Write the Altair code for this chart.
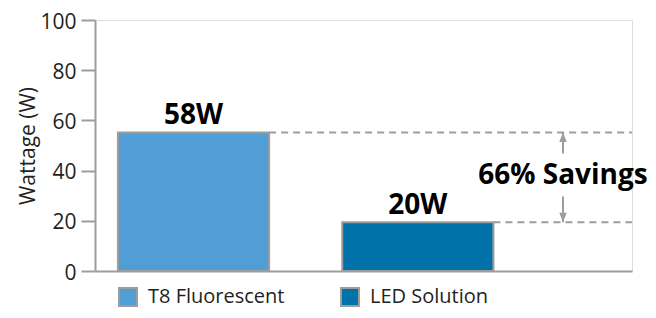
import altair as alt
import pandas as pd

categories = ["T8 Fluorescent", "LED Solution"]
bar_values = [55.2, 19.4]          # bar heights as drawn
bar_labels = ["58W", "20W"]
bar_colors = ["#519dd6", "#0071a9"]
savings_text = "66% Savings"
y_ticks = [0, 20, 40, 60, 80, 100]

FONT = "Open Sans"
GRAY = "#9d9d9d"
TXT = "#231f20"
W, H = 537, 251

df = pd.DataFrame({"cat": categories, "value": bar_values, "label": bar_labels})
ann = pd.DataFrame({"top": [bar_values[0]], "bottom": [bar_values[1]],
                    "mid": [(bar_values[0] + bar_values[1]) / 2], "text": [savings_text]})

xscale = alt.Scale(domain=categories, paddingInner=0.326, paddingOuter=0.36, align=0.142)
yscale = alt.Scale(domain=[0, 100])

x_enc = alt.X("cat:N", sort=categories, scale=xscale,
              axis=alt.Axis(title=None, labels=False, ticks=False, domain=True,
                            domainColor=GRAY, domainWidth=2, grid=False))
y_enc = alt.Y("value:Q", scale=yscale,
              axis=alt.Axis(title="Wattage (W)", values=y_ticks, grid=False,
                            domainColor=GRAY, domainWidth=2, tickColor=GRAY, tickWidth=2,
                            tickSize=14, labelFontSize=21, labelFont=FONT, labelColor=TXT,
                            labelPadding=5, labelOffset=2, titleFont=FONT, titleFontSize=21,
                            titleFontWeight="normal", titleColor=TXT, titlePadding=1))

bars = alt.Chart(df).mark_bar(stroke=GRAY, strokeWidth=2).encode(
    x=x_enc, y=y_enc,
    color=alt.Color("cat:N", sort=categories,
                    scale=alt.Scale(domain=categories, range=bar_colors),
                    legend=alt.Legend(title=None, orient="none", legendX=23, legendY=267,
                                      direction="horizontal", columns=2, symbolType="square",
                                      symbolSize=324, symbolStrokeColor=GRAY, symbolStrokeWidth=2,
                                      symbolOpacity=1, labelFont=FONT, labelFontSize=20,
                                      labelColor=TXT, labelOffset=10, columnPadding=52,
                                      padding=0)),
)

labels = alt.Chart(df).mark_text(font=FONT, fontSize=28, fontWeight="bold", baseline="alphabetic",
                                 dy=-8, color="#000").encode(
    x=alt.X("cat:N", sort=categories, scale=xscale),
    y=alt.Y("value:Q", scale=yscale), text="label:N")

dashes = alt.Chart(df).mark_rule(color=GRAY, strokeWidth=2, strokeDash=[7, 5]).encode(
    x=alt.X("cat:N", sort=categories, scale=xscale, bandPosition=1),
    x2=alt.value(W),
    y=alt.Y("value:Q", scale=yscale))

AX = 468
up_shaft = alt.Chart(ann).mark_rule(color=GRAY, strokeWidth=2, y2Offset=-24).encode(
    x=alt.value(AX), y=alt.Y("top:Q", scale=yscale), y2="mid:Q")
down_shaft = alt.Chart(ann).mark_rule(color=GRAY, strokeWidth=2, yOffset=19).encode(
    x=alt.value(AX), y=alt.Y("mid:Q", scale=yscale), y2="bottom:Q")
up_head = alt.Chart(ann).mark_point(shape="M0,-1L0.75,0.9L-0.75,0.9Z", filled=True, size=100,
                                    color=GRAY, opacity=1, yOffset=5).encode(
    x=alt.value(AX), y=alt.Y("top:Q", scale=yscale))
down_head = alt.Chart(ann).mark_point(shape="M0,1L0.75,-0.9L-0.75,-0.9Z", filled=True, size=100,
                                      color=GRAY, opacity=1, yOffset=-5).encode(
    x=alt.value(AX), y=alt.Y("bottom:Q", scale=yscale))
sav = alt.Chart(ann).mark_text(font=FONT, fontSize=28, fontWeight="bold", color="#000",
                               baseline="alphabetic", dy=7).encode(
    x=alt.value(AX), y=alt.Y("mid:Q", scale=yscale), text="text:N")

chart = alt.layer(bars, dashes, labels, up_shaft, down_shaft, up_head, down_head, sav).properties(
    width=W, height=H, autosize=alt.AutoSizeParams(type="none"),
    padding={"left": 87, "top": 12, "right": 16, "bottom": 39}
).configure_view(stroke=None).configure(background="white")

chart.save("out.html", embed_options={"renderer": "svg", "actions": False})
